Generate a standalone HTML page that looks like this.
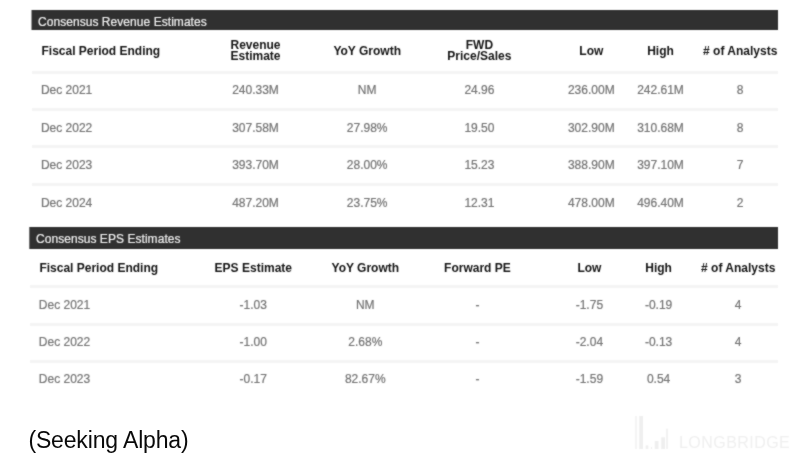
<!DOCTYPE html>
<html><head><meta charset="utf-8"><style>
html,body{margin:0;padding:0;background:#fff}
body{width:808px;height:467px;overflow:hidden;position:relative;font-family:"Liberation Sans",Arial,sans-serif}
div,svg{position:absolute}
#pg{left:0;top:0;width:808px;height:467px;background:#fff;filter:url(#soft)}
.bar{background:#303030;box-sizing:border-box}
.ttl{color:#f2f2f2;font-size:12px;line-height:12px;white-space:nowrap;letter-spacing:0.05px;-webkit-text-stroke:0.2px #f2f2f2}
.hd{color:#141414;font-size:12px;line-height:12px;font-weight:bold;white-space:nowrap}
.hd2{line-height:10.8px}
.dt{color:#737373;font-size:12px;line-height:12px;white-space:nowrap;-webkit-text-stroke:0.2px #737373}
.sep{height:3px;background:#f4f4f4}
.cap{color:#0a0a0a;font-size:23px;line-height:24px;letter-spacing:-0.15px;white-space:nowrap}
.wmt{color:#efefef;font-size:16px;line-height:18px;letter-spacing:0.45px;white-space:nowrap}
</style></head><body>
<svg width="0" height="0" style="position:absolute;left:0;top:0"><filter id="soft" x="0" y="0" width="100%" height="100%" color-interpolation-filters="sRGB"><feConvolveMatrix order="3" kernelMatrix="1 2 1 2 14 2 1 2 1" divisor="26.0" edgeMode="duplicate"/></filter></svg>
<div id="pg">
<div class="bar" style="left:31px;top:10px;width:747px;height:20px;border-left:1px solid #989898"></div>
<div class="ttl" style="left:38.0px;top:15.5px">Consensus Revenue Estimates</div>
<div class="hd" style="left:41.5px;top:45.0px">Fiscal Period Ending</div>
<div class="hd hd2" style="left:175.5px;top:40.0px;width:160px;text-align:center">Revenue<br>Estimate</div>
<div class="hd" style="left:287.2px;top:45.0px;width:160px;text-align:center">YoY Growth</div>
<div class="hd hd2" style="left:399.4px;top:40.0px;width:160px;text-align:center">FWD<br>Price/Sales</div>
<div class="hd" style="left:511.3px;top:45.0px;width:160px;text-align:center">Low</div>
<div class="hd" style="left:580.5px;top:45.0px;width:160px;text-align:center">High</div>
<div class="hd" style="left:660.2px;top:45.0px;width:160px;text-align:center"># of Analysts</div>
<div class="dt" style="left:40.9px;top:84.3px">Dec 2021</div>
<div class="dt" style="left:175.5px;top:84.3px;width:160px;text-align:center">240.33M</div>
<div class="dt" style="left:287.2px;top:84.3px;width:160px;text-align:center">NM</div>
<div class="dt" style="left:399.4px;top:84.3px;width:160px;text-align:center">24.96</div>
<div class="dt" style="left:511.3px;top:84.3px;width:160px;text-align:center">236.00M</div>
<div class="dt" style="left:580.5px;top:84.3px;width:160px;text-align:center">242.61M</div>
<div class="dt" style="left:660.2px;top:84.3px;width:160px;text-align:center">8</div>
<div class="dt" style="left:40.9px;top:121.8px">Dec 2022</div>
<div class="dt" style="left:175.5px;top:121.8px;width:160px;text-align:center">307.58M</div>
<div class="dt" style="left:287.2px;top:121.8px;width:160px;text-align:center">27.98%</div>
<div class="dt" style="left:399.4px;top:121.8px;width:160px;text-align:center">19.50</div>
<div class="dt" style="left:511.3px;top:121.8px;width:160px;text-align:center">302.90M</div>
<div class="dt" style="left:580.5px;top:121.8px;width:160px;text-align:center">310.68M</div>
<div class="dt" style="left:660.2px;top:121.8px;width:160px;text-align:center">8</div>
<div class="dt" style="left:40.9px;top:159.2px">Dec 2023</div>
<div class="dt" style="left:175.5px;top:159.2px;width:160px;text-align:center">393.70M</div>
<div class="dt" style="left:287.2px;top:159.2px;width:160px;text-align:center">28.00%</div>
<div class="dt" style="left:399.4px;top:159.2px;width:160px;text-align:center">15.23</div>
<div class="dt" style="left:511.3px;top:159.2px;width:160px;text-align:center">388.90M</div>
<div class="dt" style="left:580.5px;top:159.2px;width:160px;text-align:center">397.10M</div>
<div class="dt" style="left:660.2px;top:159.2px;width:160px;text-align:center">7</div>
<div class="dt" style="left:40.9px;top:196.7px">Dec 2024</div>
<div class="dt" style="left:175.5px;top:196.7px;width:160px;text-align:center">487.20M</div>
<div class="dt" style="left:287.2px;top:196.7px;width:160px;text-align:center">23.75%</div>
<div class="dt" style="left:399.4px;top:196.7px;width:160px;text-align:center">12.31</div>
<div class="dt" style="left:511.3px;top:196.7px;width:160px;text-align:center">478.00M</div>
<div class="dt" style="left:580.5px;top:196.7px;width:160px;text-align:center">496.40M</div>
<div class="dt" style="left:660.2px;top:196.7px;width:160px;text-align:center">2</div>
<div class="sep" style="left:32px;top:70.8px;width:746px"></div>
<div class="sep" style="left:32px;top:108.1px;width:746px"></div>
<div class="sep" style="left:32px;top:144.9px;width:746px"></div>
<div class="sep" style="left:32px;top:182.7px;width:746px"></div>
<div class="bar" style="left:29px;top:227px;width:749px;height:22px;border-left:1px solid #707070"></div>
<div class="ttl" style="left:36.0px;top:233.0px">Consensus EPS Estimates</div>
<div class="hd" style="left:39.4px;top:261.5px">Fiscal Period Ending</div>
<div class="hd" style="left:173.3px;top:261.5px;width:160px;text-align:center">EPS Estimate</div>
<div class="hd" style="left:285.3px;top:261.5px;width:160px;text-align:center">YoY Growth</div>
<div class="hd" style="left:397.4px;top:261.5px;width:160px;text-align:center">Forward PE</div>
<div class="hd" style="left:509.4px;top:261.5px;width:160px;text-align:center">Low</div>
<div class="hd" style="left:578.6px;top:261.5px;width:160px;text-align:center">High</div>
<div class="hd" style="left:658.2px;top:261.5px;width:160px;text-align:center"># of Analysts</div>
<div class="dt" style="left:38.8px;top:299.0px">Dec 2021</div>
<div class="dt" style="left:173.3px;top:299.0px;width:160px;text-align:center">-1.03</div>
<div class="dt" style="left:285.3px;top:299.0px;width:160px;text-align:center">NM</div>
<div class="dt" style="left:397.4px;top:299.0px;width:160px;text-align:center">-</div>
<div class="dt" style="left:509.4px;top:299.0px;width:160px;text-align:center">-1.75</div>
<div class="dt" style="left:578.6px;top:299.0px;width:160px;text-align:center">-0.19</div>
<div class="dt" style="left:658.2px;top:299.0px;width:160px;text-align:center">4</div>
<div class="dt" style="left:38.8px;top:336.2px">Dec 2022</div>
<div class="dt" style="left:173.3px;top:336.2px;width:160px;text-align:center">-1.00</div>
<div class="dt" style="left:285.3px;top:336.2px;width:160px;text-align:center">2.68%</div>
<div class="dt" style="left:397.4px;top:336.2px;width:160px;text-align:center">-</div>
<div class="dt" style="left:509.4px;top:336.2px;width:160px;text-align:center">-2.04</div>
<div class="dt" style="left:578.6px;top:336.2px;width:160px;text-align:center">-0.13</div>
<div class="dt" style="left:658.2px;top:336.2px;width:160px;text-align:center">4</div>
<div class="dt" style="left:38.8px;top:373.4px">Dec 2023</div>
<div class="dt" style="left:173.3px;top:373.4px;width:160px;text-align:center">-0.17</div>
<div class="dt" style="left:285.3px;top:373.4px;width:160px;text-align:center">82.67%</div>
<div class="dt" style="left:397.4px;top:373.4px;width:160px;text-align:center">-</div>
<div class="dt" style="left:509.4px;top:373.4px;width:160px;text-align:center">-1.59</div>
<div class="dt" style="left:578.6px;top:373.4px;width:160px;text-align:center">0.54</div>
<div class="dt" style="left:658.2px;top:373.4px;width:160px;text-align:center">3</div>
<div class="sep" style="left:29.5px;top:285.1px;width:748.5px"></div>
<div class="sep" style="left:29.5px;top:322.9px;width:748.5px"></div>
<div class="sep" style="left:29.5px;top:360.1px;width:748.5px"></div>
<svg class="wm" style="left:630px;top:410px" width="178" height="45" viewBox="0 0 178 45">
<g fill="#efefef">
<rect x="5.3" y="6" width="1.4" height="33"/>
<rect x="9.2" y="6" width="3.8" height="33"/>
<rect x="15.7" y="35.3" width="2.6" height="3.7"/>
<rect x="21" y="37" width="1" height="2"/>
<rect x="24.8" y="31" width="3.7" height="8"/>
<rect x="31.2" y="27.3" width="3.8" height="11.7"/>
<rect x="36.2" y="18.7" width="1.6" height="20.3"/>
</g>
</svg>
<div class="wmt" style="left:679px;top:434px">LONGBRIDGE</div>
</div>
<div class="cap" style="left:28.4px;top:427.8px">(Seeking Alpha)</div>
</body></html>
